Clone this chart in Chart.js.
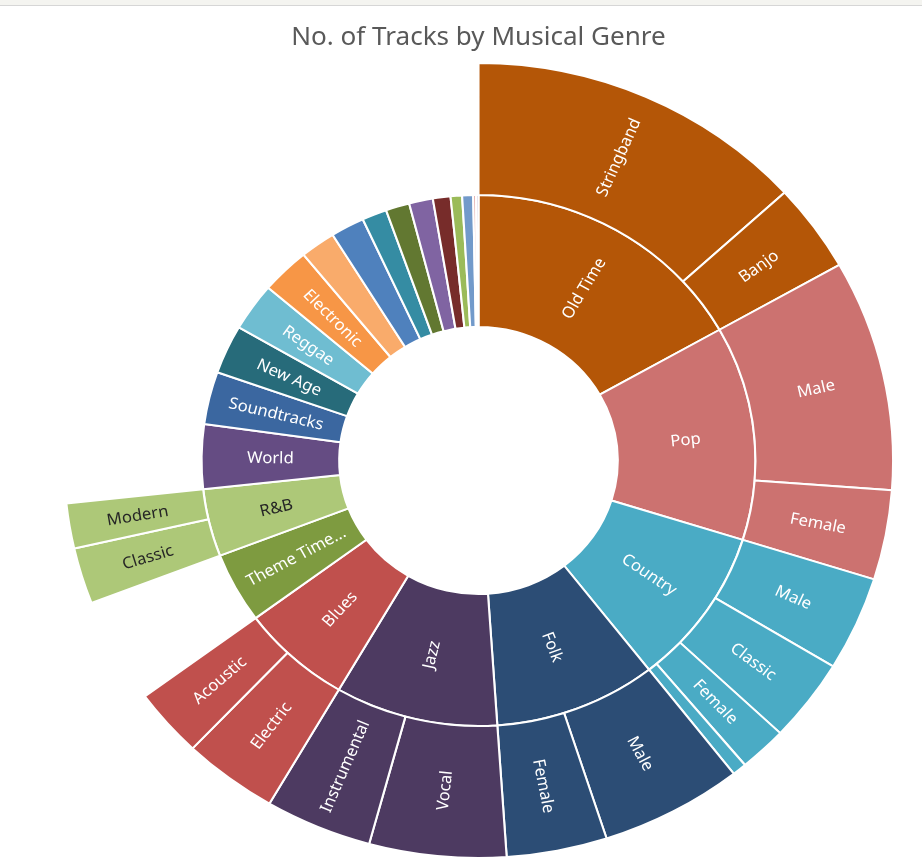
<!DOCTYPE html>
<html lang="en">
<head>
  <meta charset="UTF-8">
  <title>No. of Tracks by Musical Genre</title>
  <script src="https://cdn.jsdelivr.net/npm/chart.js"></script>
  <style>
    html, body { margin: 0; padding: 0; background: #ffffff; }
    .wrap { position: relative; width: 922px; height: 863px; overflow: hidden; }
    .topbar {
      position: absolute; left: 0; top: 0; width: 922px; height: 5px;
      background: #f4f4f0; border-bottom: 1px solid #d6d6d6;
    }
    canvas { position: absolute; left: 0; top: 0; }
  </style>
</head>
<body>
  <div class="wrap">
    <canvas id="genreChart" width="922" height="863"></canvas>
    <div class="topbar"></div>
  </div>
  <script>
    // inner ring: genres, clockwise from 12 o'clock
    const genres = ['Old Time', 'Pop', 'Country', 'Folk', 'Jazz', 'Blues', 'Theme Time Radio Hour', 'R&B',
      'World', 'Soundtracks', 'New Age', 'Reggae', 'Electronic', 'Rock', 'Gospel', 'Classical', 'Latin',
      'Hip Hop', 'Cajun', 'Spoken Word', 'Comedy', 'Holiday', 'Children\'s'];
    const genreTracks = [605, 469, 346, 341, 342, 233, 154, 148, 141, 115, 107, 105, 102, 74, 71, 52, 50, 50, 37, 24, 23, 6, 5];

    // outer ring: subgenres, listed in the order of their parent genre
    const subgenreOf = ['Old Time', 'Old Time', 'Pop', 'Pop', 'Country', 'Country', 'Country', 'Country',
      'Folk', 'Folk', 'Jazz', 'Jazz', 'Blues', 'Blues', 'R&B', 'R&B'];
    const subgenres = ['Stringband', 'Banjo', 'Male', 'Female', 'Male', 'Classic', 'Female', 'Duet',
      'Male', 'Female', 'Vocal', 'Instrumental', 'Electric', 'Acoustic', 'Classic', 'Modern'];
    const subgenreTracks = [476, 129, 338, 131, 138, 121, 67, 20, 200, 141, 192, 150, 133, 100, 82, 66];

    const genreColors = ['#b45607', '#cc7270', '#4aabc5', '#2c4d75', '#4d3a61', '#c0504d', '#7e9b40', '#adc878',
      '#654c83', '#3b67a0', '#276b7a', '#6fbdd1', '#f79646', '#f9ab6b', '#4f81bd', '#358ca3', '#627831',
      '#8064a2', '#772c2a', '#9bbb59', '#729aca', '#dc9a98', '#b3a2c7'];
    const darkText = ['R&B'];

    // build the outer ring; genres without subgenres leave an empty gap
    const outerTracks = [], outerNames = [], outerColors = [], outerBorders = [], outerParents = [];
    genres.forEach((g, gi) => {
      const kids = subgenreOf.map((p, i) => p === g ? i : -1).filter(i => i >= 0);
      if (kids.length === 0) {
        outerTracks.push(genreTracks[gi]);
        outerNames.push('');
        outerColors.push('rgba(0,0,0,0)');
        outerBorders.push(0);
        outerParents.push(g);
        return;
      }
      kids.forEach(i => {
        outerTracks.push(subgenreTracks[i]);
        outerNames.push(subgenres[i]);
        outerColors.push(genreColors[gi]);
        outerBorders.push(2);
        outerParents.push(g);
      });
    });

    // the rendered chart is a little wider than tall
    const stretchX = 1.043;
    const stretch = {
      id: 'stretch',
      beforeDraw(chart) {
        const ctx = chart.ctx;
        const cx = (chart.chartArea.left + chart.chartArea.right) / 2;
        ctx.save();
        ctx.translate(cx, 0);
        ctx.scale(stretchX, 1);
        ctx.translate(-cx, 0);
      },
      afterDraw(chart) {
        chart.ctx.restore();
      }
    };

    // rotated labels in each segment, dropped or shortened if they do not fit
    const ringLabels = {
      id: 'ringLabels',
      afterDatasetsDraw(chart) {
        const ctx = chart.ctx;
        const names = [outerNames, genres];
        const parents = [outerParents, genres];
        ctx.save();
        ctx.font = '16px "Noto Sans"';
        ctx.textAlign = 'center';
        ctx.textBaseline = 'middle';
        names.forEach((list, di) => {
          const meta = chart.getDatasetMeta(di);
          meta.data.forEach((arc, i) => {
            let text = list[i];
            if (!text) return;
            const p = arc.getProps(['x', 'y', 'startAngle', 'endAngle', 'innerRadius', 'outerRadius'], true);
            const maxLen = p.outerRadius - p.innerRadius - 20;
            if (ctx.measureText(text).width > maxLen) {
              const words = text.split(' ');
              while (words.length > 1 && ctx.measureText(words.join(' ') + '...').width > maxLen) words.pop();
              text = words.join(' ') + '...';
              if (ctx.measureText(text).width > maxLen) return;
            }
            const w = ctx.measureText(text).width;
            const span = p.endAngle - p.startAngle;
            const r = (p.innerRadius + p.outerRadius) / 2;
            const chord = 2 * (r - w / 2) * Math.sin(span / 2);
            if (chord < 28) return;
            const a = (p.startAngle + p.endAngle) / 2;
            const clock = a + Math.PI / 2;
            ctx.save();
            ctx.translate(p.x + r * Math.cos(a), p.y + r * Math.sin(a));
            ctx.rotate(clock < Math.PI ? a : a - Math.PI);
            ctx.fillStyle = darkText.includes(parents[di][i]) ? '#262626' : '#ffffff';
            ctx.fillText(text, 0, 1);
            ctx.restore();
          });
        });
        ctx.restore();
      }
    };

    const ctx = document.getElementById('genreChart').getContext('2d');
    new Chart(ctx, {
      type: 'doughnut',
      data: {
        labels: outerNames,
        datasets: [
          {
            label: 'Subgenre',
            data: outerTracks,
            backgroundColor: outerColors,
            borderColor: '#ffffff',
            borderWidth: outerBorders
          },
          {
            label: 'Genre',
            data: genreTracks,
            backgroundColor: genreColors,
            borderColor: '#ffffff',
            borderWidth: 2
          }
        ]
      },
      options: {
        responsive: false,
        animation: false,
        events: [],
        cutout: '33.6%',
        layout: { padding: { left: 80, right: 45, top: 0, bottom: 4 } },
        plugins: {
          legend: { display: false },
          tooltip: { enabled: false },
          title: {
            display: true,
            text: 'No. of Tracks by Musical Genre',
            color: '#595959',
            font: { family: '"Noto Sans"', size: 25, weight: 'normal', lineHeight: 1.2 },
            padding: { top: 23, bottom: 9 }
          }
        }
      },
      plugins: [stretch, ringLabels]
    });
  </script>
</body>
</html>
